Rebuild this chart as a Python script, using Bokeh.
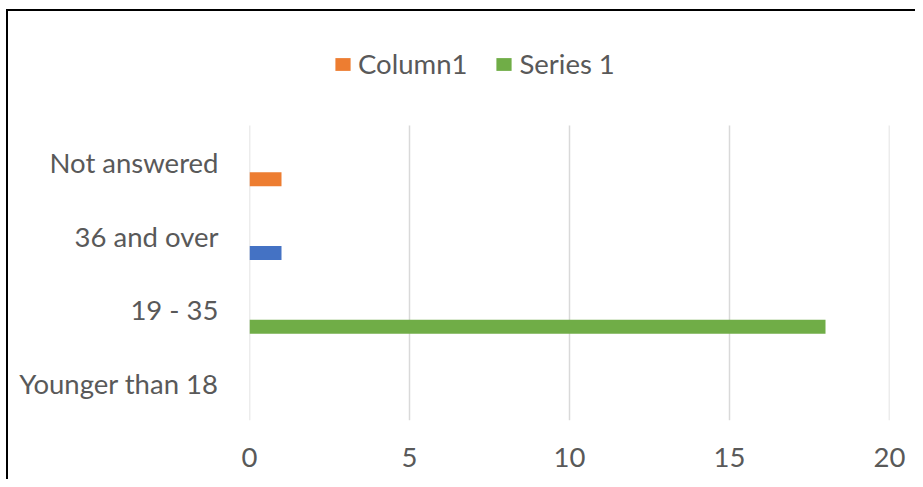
from bokeh.plotting import figure
from bokeh.models import Range1d, Legend, LegendItem, ColumnDataSource, FixedTicker
from bokeh.embed import file_html
from bokeh.resources import INLINE

categories = ["Younger than 18", "19 - 35", "36 and over", "Not answered"]
series1 = [0, 18, 0, 0]
column1 = [0, 0, 0, 1]
series_blue = [0, 0, 1, 0]
x_ticks = [0, 5, 10, 15, 20]

FONT = "Lato"
TXT = "#595959"
FS = "27.5px"
C_BLUE, C_ORANGE, C_GREEN = "#4472C4", "#ED7D31", "#70AD47"
BAR_OFFSET = -0.23
BAR_H = 0.19

n = len(categories)
cat_pos = [i + 0.5 for i in range(n)]
bar_pos = [c + BAR_OFFSET for c in cat_pos]

src = ColumnDataSource(dict(y=bar_pos, s1=series1, c1=column1, sb=series_blue))

p = figure(width=915, height=479, output_backend="svg", toolbar_location=None,
           x_range=Range1d(0, 20), y_range=Range1d(0, 5.424),
           min_border_left=249, min_border_right=26, min_border_top=20, min_border_bottom=59,
           styles={"box-shadow": "inset 6px 9px 0 0 white, inset 8px 11px 0 0 black"})
p.outline_line_color = None
p.background_fill_color = None
p.border_fill_color = None

# grid lines limited to the category area
p.segment(x0=x_ticks, y0=[0] * len(x_ticks), x1=x_ticks, y1=[n] * len(x_ticks),
          line_color="#D9D9D9", line_width=1.5)

p.hbar(y="y", right="sb", left=0, height=BAR_H, source=src, fill_color=C_BLUE, line_color=None)
r_c1 = p.hbar(y="y", right="c1", left=0, height=BAR_H, source=src, fill_color=C_ORANGE, line_color=None)
r_s1 = p.hbar(y="y", right="s1", left=0, height=BAR_H, source=src, fill_color=C_GREEN, line_color=None)

p.grid.grid_line_color = None

p.xaxis.ticker = FixedTicker(ticks=x_ticks)
p.yaxis.ticker = FixedTicker(ticks=cat_pos)
p.yaxis.major_label_overrides = {c: lab for c, lab in zip(cat_pos, categories)}
for ax in (p.xaxis, p.yaxis):
    ax.axis_line_color = None
    ax.major_tick_line_color = None
    ax.minor_tick_line_color = None
    ax.major_tick_out = 0
    ax.minor_tick_out = 0
    ax.major_label_text_font = FONT
    ax.major_label_text_font_size = FS
    ax.major_label_text_color = TXT
p.xaxis.major_label_standoff = 27
p.yaxis.major_label_standoff = 31

legend = Legend(items=[LegendItem(label="Column1", renderers=[r_c1]),
                       LegendItem(label="Series 1", renderers=[r_s1])],
                location=(84, 340), orientation="horizontal",
                glyph_width=19, glyph_height=16, label_standoff=6, spacing=27,
                padding=0, margin=0, border_line_color=None, background_fill_alpha=0,
                label_text_font=FONT, label_text_font_size=FS, label_text_color=TXT)
p.add_layout(legend, "center")

open("out.html", "w").write(file_html(p, INLINE))
